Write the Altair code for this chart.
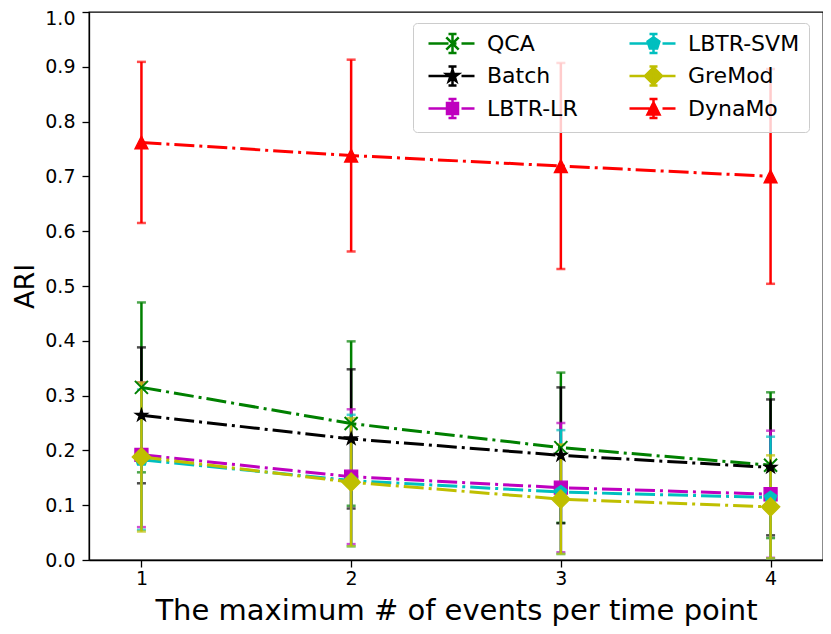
import altair as alt
import pandas as pd

# ---------------- data ----------------
x_vals = [1, 2, 3, 4]
y_ticks = [0.0, 0.1, 0.2, 0.3, 0.4, 0.5, 0.6, 0.7, 0.8, 0.9, 1.0]

series_names = ["QCA", "Batch", "LBTR-LR", "LBTR-SVM", "GreMod", "DynaMo"]
series_colors = ["#008000", "#000000", "#bf00bf", "#00bfbf", "#bfbf00", "#ff0000"]

qca_mean = [0.315, 0.249, 0.205, 0.173]
qca_err = [0.155, 0.150, 0.137, 0.133]
batch_mean = [0.264, 0.221, 0.191, 0.169]
batch_err = [0.124, 0.127, 0.124, 0.124]
lr_mean = [0.192, 0.152, 0.132, 0.120]
lr_err = [0.132, 0.123, 0.118, 0.116]
svm_mean = [0.183, 0.145, 0.124, 0.114]
svm_err = [0.128, 0.120, 0.113, 0.111]
gremod_mean = [0.188, 0.142, 0.111, 0.097]
gremod_err = [0.136, 0.117, 0.100, 0.094]
dynamo_mean = [0.762, 0.738, 0.719, 0.700]
dynamo_err = [0.147, 0.175, 0.188, 0.196]

means = [qca_mean, batch_mean, lr_mean, svm_mean, gremod_mean, dynamo_mean]
errs = [qca_err, batch_err, lr_err, svm_err, gremod_err, dynamo_err]

# ---------------- marker shapes ----------------
X_PATH = "M-1,-1L1,1M-1,1L1,-1"
STAR_PATH = ("M0,-1L-0.2245,-0.309L-0.9511,-0.309L-0.3633,0.118L-0.5878,0.809"
             "L0,0.382L0.5878,0.809L0.3633,0.118L0.9511,-0.309L0.2245,-0.309Z")
PENT_PATH = "M0,-1L-0.9511,-0.309L-0.5878,0.809L0.5878,0.809L0.9511,-0.309Z"
TRI_PATH = "M0,-1L-1,1L1,1Z"
marker_shapes = [X_PATH, STAR_PATH, "square", PENT_PATH, "diamond", TRI_PATH]
marker_sizes = [169, 169, 169, 169, 338, 169]
marker_filled = [False, True, True, True, True, True]

LEG_LINE = "M-2.4,0H-0.4M0.1,0H0.4M0.9,0H2.2"
LEG_EB = "M0,-0.95V0.95M-0.4,-0.95H0.4M-0.4,0.95H0.4"
leg_markers = [
    "M-0.62,-0.62L0.62,0.62M-0.62,0.62L0.62,-0.62",
    "M0,-0.62L-0.139,-0.192L-0.59,-0.192L-0.225,0.073L-0.364,0.502L0,0.237"
    "L0.364,0.502L0.225,0.073L0.59,-0.192L0.139,-0.192Z",
    "M-0.55,-0.55H0.55V0.55H-0.55Z",
    "M0,-0.62L-0.59,-0.192L-0.364,0.502L0.364,0.502L0.59,-0.192Z",
    "M0,-0.85L0.85,0L0,0.85L-0.85,0Z",
    "M0,-0.6L-0.6,0.6L0.6,0.6Z",
]
leg_paths = [LEG_LINE + LEG_EB + m for m in leg_markers]

# ---------------- tables ----------------
rows = []
for name, m, e in zip(series_names, means, errs):
    for xv, mv, ev in zip(x_vals, m, e):
        rows.append({"series": name, "x": xv, "mean": mv,
                     "lo": mv - ev, "hi": mv + ev})
df = pd.DataFrame(rows)
caps = df.melt(id_vars=["series", "x"], value_vars=["lo", "hi"], value_name="v")

xscale = alt.Scale(domain=[0.75, 4.25], nice=False, zero=False)
yscale = alt.Scale(domain=[0, 1], nice=False, zero=False)
x_axis = alt.Axis(values=x_vals, format="d", titleFontSize=29, titlePadding=8,
                  title="The maximum # of events per time point")
y_axis = alt.Axis(values=y_ticks, format=".1f", title="ARI", titleFontSize=27,
                  titlePadding=5,
                  labelOffset={"condition": {"test": "datum.value >= 1", "value": 6},
                               "value": 0})


def X():
    return alt.X("x:Q", scale=xscale, axis=x_axis)


def Y(field):
    return alt.Y(f"{field}:Q", scale=yscale, axis=y_axis)


layers = []
# error bars first (drawn beneath lines/markers, like matplotlib)
for name, col in zip(series_names, series_colors):
    d = df[df.series == name]
    c = caps[caps.series == name]
    layers.append(alt.Chart(d).mark_rule(color=col, strokeWidth=2.5, clip=True)
                  .encode(x=X(), y=Y("lo"), y2="hi:Q"))
    layers.append(alt.Chart(c).mark_tick(color=col, orient="horizontal", size=9,
                                         thickness=2.5, clip=True)
                  .encode(x=X(), y=Y("v")))

for name, col, shp, sz, fl in zip(series_names, series_colors, marker_shapes,
                                   marker_sizes, marker_filled):
    d = df[df.series == name]
    layers.append(alt.Chart(d).mark_line(color=col, strokeWidth=3,
                                         strokeDash=[20, 5, 3, 5])
                  .encode(x=X(), y=Y("mean")))
    if fl:
        pm = alt.Chart(d).mark_point(shape=shp, size=sz, filled=True, fill=col,
                                     stroke=col, strokeWidth=1.3, opacity=1)
    else:
        pm = alt.Chart(d).mark_point(shape=shp, size=sz, filled=False,
                                     stroke=col, strokeWidth=2, opacity=1)
    layers.append(pm.encode(x=X(), y=Y("mean")))

# invisible layer that only supplies the legend
legend_layer = alt.Chart(df).mark_point(opacity=0, filled=True).encode(
    x=X(), y=Y("mean"),
    fill=alt.Fill("series:N", scale=alt.Scale(domain=series_names, range=series_colors),
                  legend=alt.Legend(title=None)),
    stroke=alt.Stroke("series:N", scale=alt.Scale(domain=series_names, range=series_colors),
                      legend=alt.Legend(title=None)),
    shape=alt.Shape("series:N", scale=alt.Scale(domain=series_names, range=leg_paths),
                    legend=alt.Legend(title=None)),
)
layers.append(legend_layer)

chart = alt.layer(*layers).properties(
    width=734, height=548,
    autosize=alt.AutoSizeParams(type="none"),
    padding={"left": 81, "top": 4, "right": 0, "bottom": 66},
).configure_view(
    stroke="black", strokeWidth=1.3
).configure_axis(
    domainColor="black", domainWidth=1.3, tickColor="black", tickWidth=1.3,
    tickSize=7, labelFont="DejaVu Sans", labelFontSize=19, labelColor="black",
    titleFont="DejaVu Sans", titleFontSize=28, titleFontWeight="normal",
    titleColor="black", grid=False,
).configure_axisX(labelPadding=2
).configure_axisY(labelPadding=7
).configure_legend(
    orient="none", legendX=324, legendY=11, columns=2,
    symbolSize=400, symbolStrokeWidth=2.5, symbolOpacity=1,
    symbolOffset=19, labelOffset=23,
    labelFont="DejaVu Sans", labelFontSize=22, labelColor="black",
    labelLimit=400, rowPadding=3.5, columnPadding=45, padding=9,
    fillColor="rgba(255,255,255,0.8)", strokeColor="#cccccc", cornerRadius=4,
    strokeWidth=1,
)

chart.save("out.html", embed_options={"renderer": "svg", "actions": False})
